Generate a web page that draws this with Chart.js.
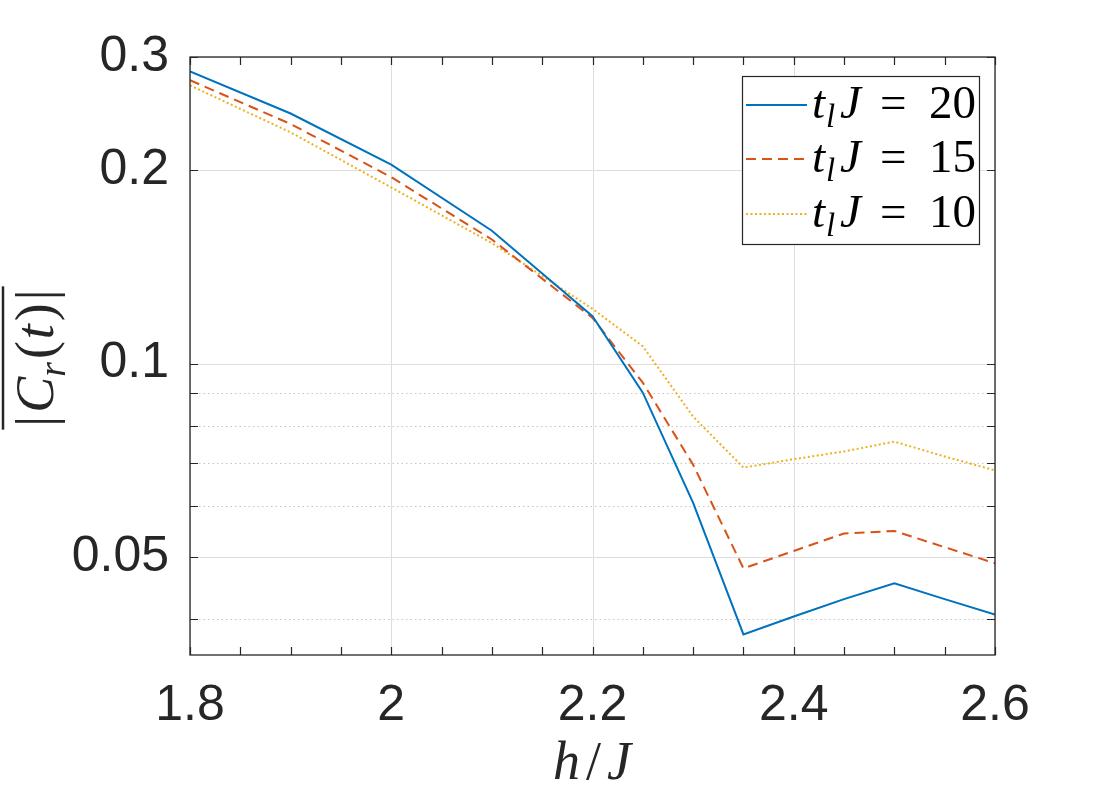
<!DOCTYPE html>
<html lang="en">
<head>
<meta charset="UTF-8">
<title>Time-averaged correlation vs h/J</title>
<script src="https://cdn.jsdelivr.net/npm/chart.js"></script>
<style>body{margin:0;background:#fff}</style>
</head>
<body>
<canvas id="corrChart" width="1100" height="800"></canvas>
<script>
// values (log y axis)
const hOverJ = [1.8, 1.9, 2.0, 2.1, 2.2, 2.25, 2.3, 2.35, 2.4, 2.45, 2.5, 2.55, 2.6];
const corrT20 = [0.285, 0.245, 0.204, 0.161, 0.1185, 0.0901, 0.0607, 0.0379, 0.0404, 0.0430, 0.0455, 0.0430, 0.0407];
const corrT15 = [0.276, 0.236, 0.195, 0.156, 0.1178, 0.0934, 0.0696, 0.0480, 0.0511, 0.0544, 0.0549, 0.0518, 0.0489];
const corrT10 = [0.271, 0.229, 0.188, 0.154, 0.1217, 0.1064, 0.0827, 0.0689, 0.0710, 0.0730, 0.0756, 0.0717, 0.0682];
const legendValues = ['20', '15', '10'];

const xTicks = [1.8, 2, 2.2, 2.4, 2.6];
const xMinorTicks = [1.85, 1.9, 1.95, 2.05, 2.1, 2.15, 2.25, 2.3, 2.35, 2.45, 2.5, 2.55];
const yTicks = [0.05, 0.1, 0.2, 0.3];
const yMinorTicks = [0.04, 0.06, 0.07, 0.08, 0.09];

const colors = ['#0072BD', '#D95319', '#EDB120'];
const dashes = [[], [10, 6], [2, 2.5]];
const axisColor = '#262626';
const serif = '"Liberation Serif", "DejaVu Serif", serif';

const toPoints = vals => hOverJ.map((h, i) => ({ x: h, y: vals[i] }));

function setFont(ctx, p, size) {
    const s = p.sub ? size * 0.7 : size;
    ctx.font = (p.it ? 'italic ' : '') + s + 'px ' + serif;
}
// draw text pieces (italic / subscript) one after another from x
function drawPieces(ctx, pieces, x, y, size) {
    let cx = x;
    pieces.forEach(p => {
        setFont(ctx, p, size);
        ctx.fillText(p.t, cx, y + (p.sub ? size * 0.22 : 0));
        cx += ctx.measureText(p.t).width + (p.gap || 0);
    });
}
function piecesWidth(ctx, pieces, size) {
    let w = 0;
    pieces.forEach(p => {
        setFont(ctx, p, size);
        w += ctx.measureText(p.t).width + (p.gap || 0);
    });
    return w;
}

const matlabAxes = {
    id: 'matlabAxes',
    beforeDatasetsDraw(chart) {
        const { ctx, chartArea: a, scales: { x, y } } = chart;
        ctx.save();
        ctx.lineWidth = 1;
        // minor grid (dotted)
        ctx.strokeStyle = '#c4c4c4';
        ctx.setLineDash([1.5, 3]);
        yMinorTicks.forEach(v => {
            const py = Math.round(y.getPixelForValue(v)) + 0.5;
            ctx.beginPath(); ctx.moveTo(a.left, py); ctx.lineTo(a.right, py); ctx.stroke();
        });
        // major grid
        ctx.setLineDash([]);
        ctx.strokeStyle = '#dedede';
        yTicks.forEach(v => {
            const py = Math.round(y.getPixelForValue(v)) + 0.5;
            ctx.beginPath(); ctx.moveTo(a.left, py); ctx.lineTo(a.right, py); ctx.stroke();
        });
        xTicks.forEach(v => {
            const px = Math.round(x.getPixelForValue(v)) + 0.5;
            ctx.beginPath(); ctx.moveTo(px, a.top); ctx.lineTo(px, a.bottom); ctx.stroke();
        });
        ctx.restore();
    },
    afterDatasetsDraw(chart) {
        const { ctx, chartArea: a, scales: { x, y } } = chart;
        ctx.save();
        ctx.strokeStyle = axisColor;
        ctx.lineWidth = 1.3;
        ctx.strokeRect(a.left, a.top, a.right - a.left, a.bottom - a.top);

        // inward ticks on all four sides
        const tl = 8;
        ctx.lineWidth = 1.2;
        ctx.beginPath();
        xTicks.concat(xMinorTicks).forEach(v => {
            const px = Math.round(x.getPixelForValue(v)) + 0.5;
            ctx.moveTo(px, a.bottom); ctx.lineTo(px, a.bottom - tl);
            ctx.moveTo(px, a.top); ctx.lineTo(px, a.top + tl);
        });
        yTicks.concat(yMinorTicks).forEach(v => {
            const py = Math.round(y.getPixelForValue(v)) + 0.5;
            ctx.moveTo(a.left, py); ctx.lineTo(a.left + tl, py);
            ctx.moveTo(a.right, py); ctx.lineTo(a.right - tl, py);
        });
        ctx.stroke();

        // legend
        const lx = 742, ly = 76, lw = 237, lh = 168;
        ctx.fillStyle = '#fff';
        ctx.fillRect(lx, ly, lw, lh);
        ctx.strokeStyle = axisColor;
        ctx.lineWidth = 1.2;
        ctx.strokeRect(lx + 0.5, ly + 0.5, lw, lh);
        const rowY = [105, 159, 214];
        const fs = 47;
        legendValues.forEach((val, i) => {
            ctx.strokeStyle = colors[i];
            ctx.lineWidth = 2;
            ctx.setLineDash(dashes[i]);
            ctx.beginPath(); ctx.moveTo(746, rowY[i]); ctx.lineTo(807, rowY[i]); ctx.stroke();
            ctx.setLineDash([]);
            ctx.fillStyle = '#000';
            ctx.textBaseline = 'alphabetic';
            ctx.textAlign = 'left';
            const base = rowY[i] + 13;
            setFont(ctx, { it: true }, fs);
            ctx.fillText('t', 812, base);
            setFont(ctx, { it: true, sub: true }, fs);
            ctx.fillText('l', 826, base + 9);
            setFont(ctx, { it: true }, fs);
            ctx.fillText('J', 840, base);
            setFont(ctx, {}, fs);
            ctx.fillText('=', 880, base);
            ctx.fillText(val, 929, base);
        });

        // x axis title: h/J
        ctx.fillStyle = axisColor;
        const xt = [{ t: 'h', it: true, gap: 6 }, { t: '/', gap: 6 }, { t: 'J', it: true }];
        const xw = piecesWidth(ctx, xt, 54);
        drawPieces(ctx, xt, 592 - xw / 2, 779, 54);

        // y axis title: overlined |C_r(t)|
        ctx.translate(53, 358);
        ctx.rotate(-Math.PI / 2);
        const yt = [{ t: '|', gap: 3 }, { t: 'C', it: true }, { t: 'r', it: true, sub: true, gap: 3 },
                    { t: '(', gap: 2 }, { t: 't', it: true, gap: 3 }, { t: ')', gap: 3 }, { t: '|' }];
        const yw = piecesWidth(ctx, yt, 54);
        drawPieces(ctx, yt, -yw / 2, 0, 54);
        ctx.strokeStyle = axisColor;
        ctx.lineWidth = 2.5;
        ctx.beginPath(); ctx.moveTo(-yw / 2 - 3, -50); ctx.lineTo(yw / 2 + 3, -50); ctx.stroke();
        ctx.restore();
    }
};

const ctx = document.getElementById('corrChart').getContext('2d');
const corrChart = new Chart(ctx, {
    type: 'line',
    data: {
        datasets: [
            { label: 't_l J = 20', data: toPoints(corrT20) },
            { label: 't_l J = 15', data: toPoints(corrT15) },
            { label: 't_l J = 10', data: toPoints(corrT10) }
        ].map((d, i) => Object.assign(d, {
            borderColor: colors[i],
            borderDash: dashes[i],
            borderWidth: 2,
            pointRadius: 0,
            fill: false,
            tension: 0
        }))
    },
    options: {
        responsive: false,
        devicePixelRatio: 1,
        animation: false,
        layout: { padding: { top: 57, right: 105, left: 0, bottom: 0 } },
        plugins: { legend: { display: false }, tooltip: { enabled: false } },
        scales: {
            x: {
                type: 'linear',
                min: 1.8,
                max: 2.6,
                grid: { display: false, drawTicks: false },
                border: { display: false },
                afterBuildTicks: s => { s.ticks = xTicks.map(v => ({ value: v })); },
                afterFit: s => { s.height = 145; },
                ticks: {
                    padding: 21,
                    maxRotation: 0,
                    color: axisColor,
                    font: { family: '"Liberation Sans", Arial, sans-serif', size: 50 },
                    callback: v => String(Math.round(v * 10) / 10)
                }
            },
            y: {
                type: 'logarithmic',
                min: 0.0352,
                max: 0.3,
                grid: { display: false, drawTicks: false },
                border: { display: false },
                afterBuildTicks: s => { s.ticks = yTicks.map(v => ({ value: v })); },
                afterFit: s => { s.width = 190; },
                ticks: {
                    padding: 21,
                    color: axisColor,
                    font: { family: '"Liberation Sans", Arial, sans-serif', size: 50 },
                    callback: v => String(v)
                }
            }
        }
    },
    plugins: [matlabAxes]
});
</script>
</body>
</html>
